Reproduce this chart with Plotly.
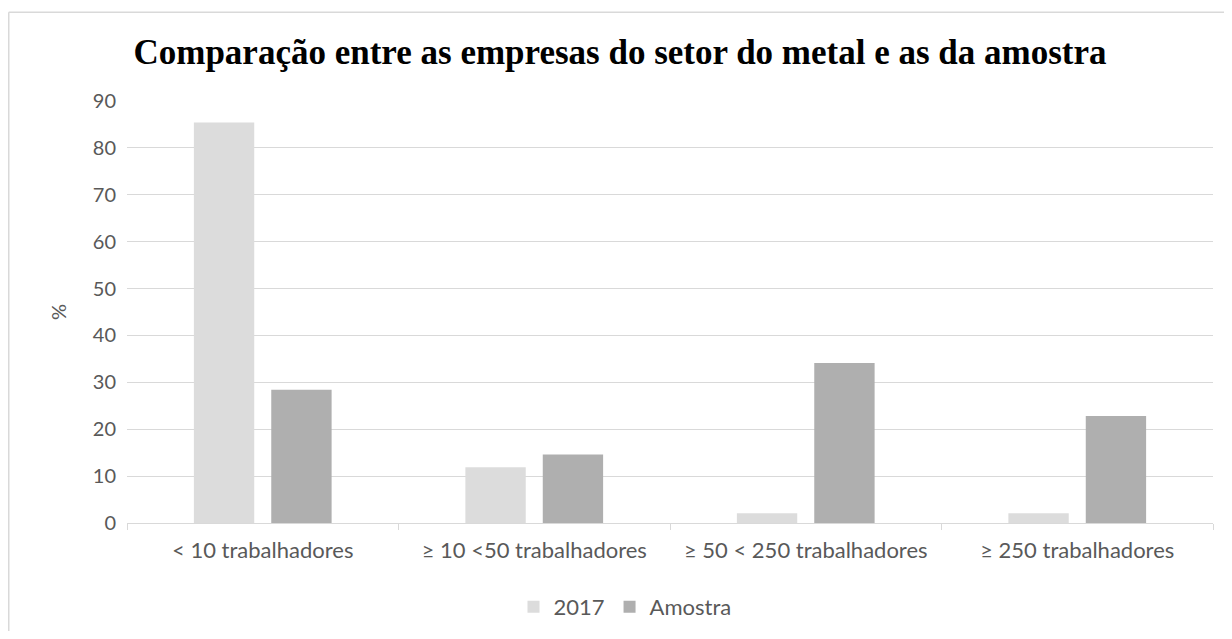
import plotly.graph_objects as go

categories = ["< 10 trabalhadores", "≥ 10 <50 trabalhadores", "≥ 50 < 250 trabalhadores", "≥ 250 trabalhadores"]
series_2017 = [85.4, 11.9, 2.1, 2.1]
series_amostra = [28.4, 14.6, 34.1, 22.8]
y_ticks = [0, 10, 20, 30, 40, 50, 60, 70, 80, 90]

font_axis = "Lato, 'Open Sans', sans-serif"
txt_color = "#595959"

fig = go.Figure()
fig.add_trace(go.Bar(name="2017", x=categories, y=series_2017, marker=dict(color="#DCDCDC", line=dict(width=0))))
fig.add_trace(go.Bar(name="Amostra", x=categories, y=series_amostra, marker=dict(color="#AFAFAF", line=dict(width=0))))

W, H = 1216, 623
L, R, T, B = 119, 11, 93, 108
PW, PH = W - L - R, H - T - B

bx0 = (0.75 - L) / PW
by1 = 1 + (T - 4.25) / PH
border_style = dict(color="#D9D9D9", width=1.5)

fig.update_layout(
    width=W, height=H,
    paper_bgcolor="white", plot_bgcolor="white",
    margin=dict(l=L, r=R, t=T, b=B),
    barmode="group", bargap=0.43, bargroupgap=0.22,
    title=dict(text="<b>Comparação entre as empresas do setor do metal e as da amostra</b>",
               font=dict(family="'Liberation Serif', 'Times New Roman', serif", size=35, color="black"),
               x=612 / W, xref="container", xanchor="center", y=1 - 44 / H, yref="container", yanchor="middle"),
    legend=dict(orientation="h", xref="container", x=617 / W, xanchor="center", yref="container", y=1 - 599 / H, yanchor="middle",
                font=dict(family=font_axis, size=22, color=txt_color), itemwidth=30, traceorder="normal"),
    xaxis=dict(showline=True, linecolor="#D9D9D9", linewidth=1, ticks="outside", tickson="boundaries",
               ticklen=6, tickcolor="#D9D9D9", tickfont=dict(family=font_axis, size=22, color=txt_color),
               ticklabelstandoff=8, showgrid=False),
    yaxis=dict(range=[0, 90], tickvals=y_ticks, showgrid=True, gridcolor="#D9D9D9", gridwidth=1,
               zeroline=False, showline=False, tickfont=dict(family=font_axis, size=20, color=txt_color),
               ticklabelstandoff=10,
               title=dict(text="%", font=dict(family=font_axis, size=20, color=txt_color), standoff=20)),
    shapes=[
        dict(type="line", xref="paper", yref="paper", x0=bx0, x1=1 + (R + 20) / PW, y0=by1, y1=by1,
             line=border_style, layer="below"),
        dict(type="line", xref="paper", yref="paper", x0=bx0, x1=bx0, y0=by1, y1=-(B + 20) / PH,
             line=border_style, layer="below"),
    ],
)

fig.write_html("out.html")
